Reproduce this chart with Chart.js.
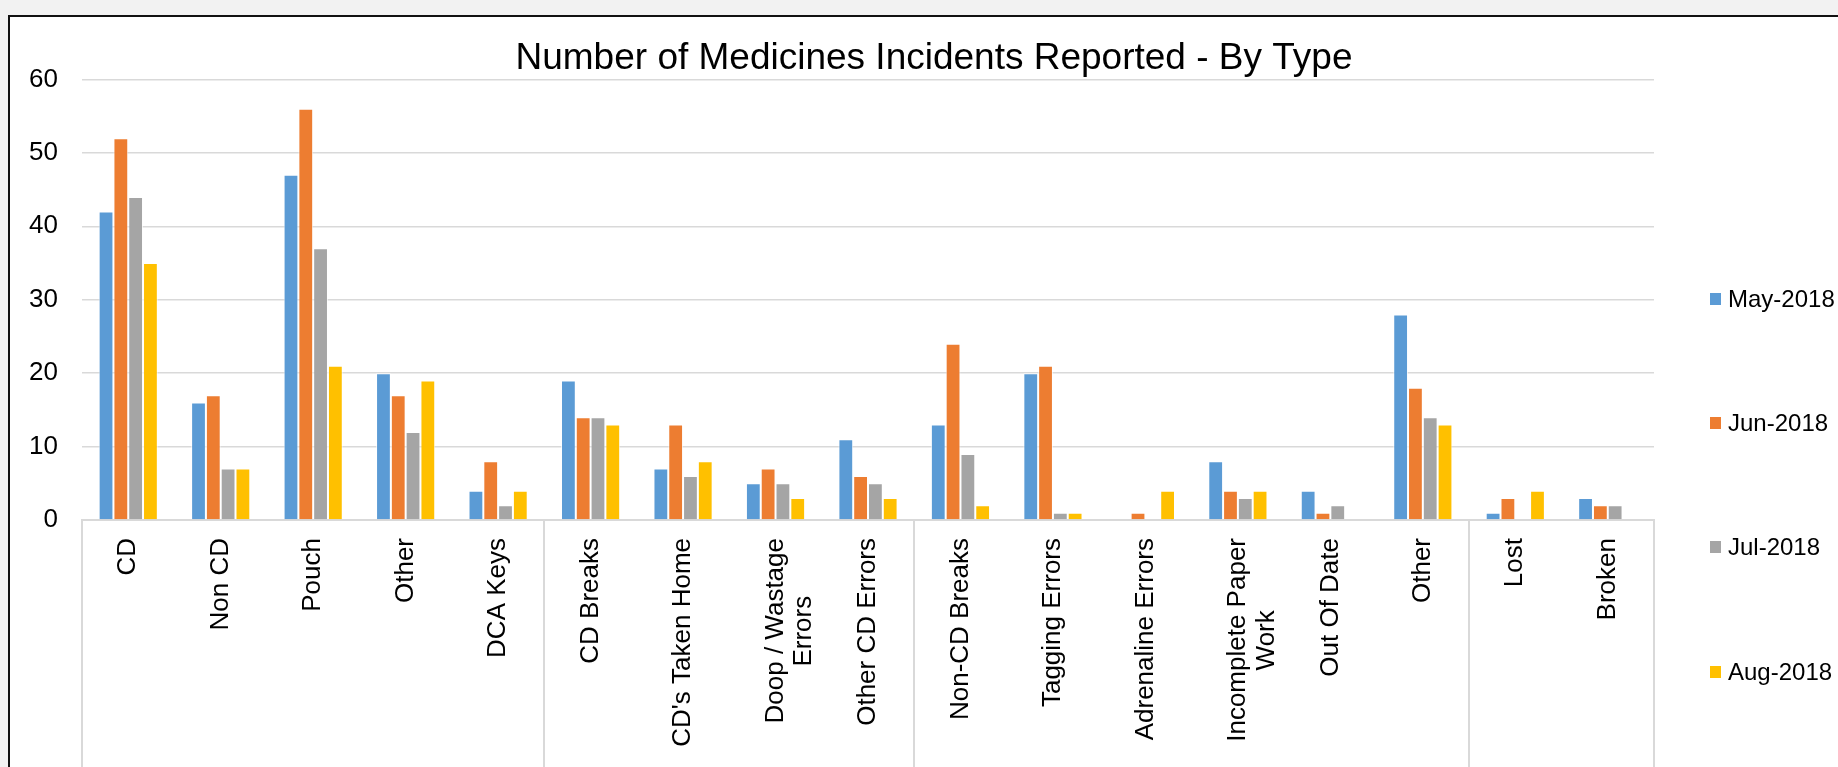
<!DOCTYPE html>
<html>
<head>
<meta charset="utf-8">
<script src="https://cdn.jsdelivr.net/npm/chart.js@4"></script>
<style>
    html, body { margin: 0; padding: 0; width: 1838px; height: 767px; overflow: hidden; background: #f2f2f2; }
    #frame {
        position: absolute; left: 8px; top: 15px; width: 1900px; height: 800px;
        background: #fff; border-left: 2px solid #111; border-top: 2px solid #111;
    }
    #incidentsChart { position: absolute; left: 0; top: 0; }
    #legend { position: absolute; left: 1700px; top: 0; font-family: "Liberation Sans", Arial, sans-serif; font-size: 24px; color: #000; }
    #legend .item { position: absolute; left: 0; height: 24px; line-height: 24px; display: flex; align-items: center; white-space: nowrap; }
    #legend .swatch { width: 11px; height: 12px; margin-right: 7px; }
</style>
</head>
<body>
<div id="frame">
    <canvas id="incidentsChart" width="1848" height="763"></canvas>
    <div id="legend"></div>
</div>
<script>
const categories = [
    'CD', 'Non CD', 'Pouch', 'Other', 'DCA Keys',
    'CD Breaks', "CD's Taken Home", ['Doop / Wastage', 'Errors'], 'Other CD Errors',
    'Non-CD Breaks', 'Tagging Errors', 'Adrenaline Errors', ['Incomplete Paper', 'Work'], 'Out Of Date', 'Other',
    'Lost', 'Broken'
];
const seriesNames = ['May-2018', 'Jun-2018', 'Jul-2018', 'Aug-2018'];
const may2018 = [42, 16, 47, 20, 4, 19, 7, 5, 11, 13, 20, 0, 8, 4, 28, 1, 3];
const jun2018 = [52, 17, 56, 17, 8, 14, 13, 7, 6, 24, 21, 1, 4, 1, 18, 3, 2];
const jul2018 = [44, 7, 37, 12, 2, 14, 6, 5, 5, 9, 1, 0, 3, 2, 14, 0, 2];
const aug2018 = [35, 7, 21, 19, 4, 13, 8, 3, 3, 2, 1, 4, 4, 0, 13, 4, 0];
const yTicks = [0, 10, 20, 30, 40, 50, 60];
// category index where each group box starts/ends
const groupBreaks = [0, 5, 9, 15, 17];

const colors = ['#5B9BD5', '#ED7D31', '#A5A5A5', '#FFC000'];
const fontFamily = '"Liberation Sans", Arial, sans-serif';
const tickFont = { family: fontFamily, size: 26, lineHeight: 1.1 };

// rotated labels are end-aligned by Chart.js, so pad shorter lines to centre them
const measure = document.createElement('canvas').getContext('2d');
measure.font = tickFont.size + 'px ' + fontFamily;
const spaceWidth = measure.measureText(' ').width;
const tickLabels = categories.map(label => {
    if (!Array.isArray(label)) return label;
    const widest = Math.max(...label.map(l => measure.measureText(l).width));
    return label.map(l => l + ' '.repeat(Math.round((widest - measure.measureText(l).width) / 2 / spaceWidth)));
});

const seriesData = [may2018, jun2018, jul2018, aug2018];

const ctx = document.getElementById('incidentsChart').getContext('2d');
new Chart(ctx, {
    type: 'bar',
    data: {
        labels: tickLabels,
        datasets: seriesNames.map((name, i) => ({
            label: name,
            data: seriesData[i],
            backgroundColor: colors[i],
            borderColor: 'rgba(255,255,255,0.7)',
            borderWidth: 1,
            categoryPercentage: 0.64,
            barPercentage: 1
        }))
    },
    options: {
        responsive: false,
        animation: false,
        plugins: {
            legend: { display: false },
            tooltip: { enabled: false },
            title: {
                display: true,
                text: 'Number of Medicines Incidents Reported - By Type',
                color: '#000',
                font: { family: fontFamily, size: 37, weight: 'normal', lineHeight: 1.2 },
                padding: { top: 20, bottom: -2 }
            }
        },
        scales: {
            x: {
                grid: {
                    display: true,
                    offset: true,
                    drawOnChartArea: false,
                    drawTicks: true,
                    tickLength: 260,
                    lineWidth: 2,
                    color: c => {
                        const i = c.type === 'tick' ? c.index : categories.length;
                        return groupBreaks.includes(i) ? '#d9d9d9' : 'rgba(0,0,0,0)';
                    }
                },
                border: { display: true, color: '#d9d9d9', width: 2 },
                ticks: {
                    autoSkip: false,
                    minRotation: 90,
                    maxRotation: 90,
                    padding: 18 - 260,
                    color: '#000',
                    font: tickFont
                },
                afterFit: scale => { scale.height = 260; }
            },
            y: {
                min: yTicks[0],
                max: yTicks[yTicks.length - 1],
                afterBuildTicks: scale => { scale.ticks = yTicks.map(v => ({ value: v })); },
                grid: { color: '#d9d9d9', lineWidth: 1.5, drawTicks: false },
                border: { display: false },
                ticks: { padding: 24, color: '#000', font: { family: fontFamily, size: 26 } },
                afterFit: scale => { scale.width = 72; }
            },
            // empty right-hand axis that keeps room for the legend column
            legendSpace: {
                type: 'linear',
                position: 'right',
                grid: { display: false },
                border: { display: false },
                ticks: { display: false },
                afterFit: scale => { scale.width = 204; }
            }
        }
    }
});

// legend down the right-hand side
const legend = document.getElementById('legend');
seriesNames.forEach((name, i) => {
    const item = document.createElement('div');
    item.className = 'item';
    item.style.top = (282 + i * 124.2 - 12) + 'px';
    const swatch = document.createElement('span');
    swatch.className = 'swatch';
    swatch.style.background = colors[i];
    const text = document.createElement('span');
    text.textContent = name;
    item.appendChild(swatch);
    item.appendChild(text);
    legend.appendChild(item);
});
</script>
</body>
</html>
